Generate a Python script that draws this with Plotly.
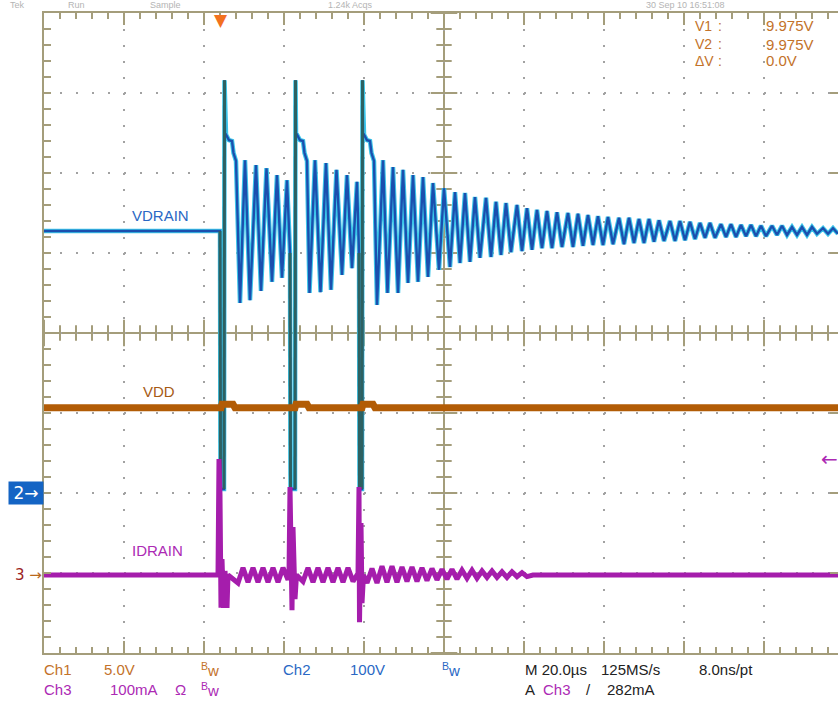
import numpy as np
import plotly.graph_objects as go

# ---------------- data ----------------
# Ch2 : VDRAIN, 100 V/div   (time in microseconds, trigger at t = 0)
vdrain_t = [-44.25, -0.25, -0.125, 0.75, 0.875, 1.0, 1.25, 2.0, 2.75, 3.125, 3.75,
            4.75, 6.0, 7.25, 8.75, 10.0, 11.375, 12.75, 14.0, 15.25, 16.5, 17.25,
            17.375, 18.5, 18.625, 18.75, 19.0, 19.75, 20.5, 20.875, 21.5,
            22.125, 23.5, 24.875, 26.25, 27.5, 28.875, 30.25, 31.5, 32.75, 34.0, 34.5,
            34.625, 35.25, 35.375, 35.5, 35.75, 36.5, 37.25, 37.625, 38.25,
            39.0, 40.5, 41.625, 43.0, 44.25, 45.5, 46.75, 48.0, 49.25, 50.5, 51.75,
            53.0, 54.5, 55.75, 57.25, 58.5, 59.75, 61.0, 62.25, 63.5, 64.75, 66.25,
            67.5, 68.75, 70.0, 71.25, 72.5, 74.0, 75.25, 76.5, 77.75, 79.0, 80.25,
            81.5, 82.75, 84.0, 85.25, 86.75, 88.0, 89.25, 90.5, 91.75, 93.0, 94.25,
            95.5, 96.75, 98.0, 99.5, 100.75, 102.0, 103.25, 104.5, 105.75, 107.0,
            108.25, 109.5, 110.75, 112.25, 113.5, 114.75, 116.0, 117.25, 118.5,
            119.75, 121.0, 122.25, 123.5, 125.0, 126.25, 127.5, 128.75, 130.0,
            131.25, 132.5, 133.75, 135.0, 136.25, 137.75, 139.0, 140.25, 141.5,
            142.75, 144.0, 145.25, 146.5, 147.75, 149.0, 150.5, 151.75, 153.0, 154.25]
vdrain_v = [327.5, 327.5, 5, 5, 516, 450, 448, 441, 440, 425, 415,
            237.5, 416, 241, 410, 252.5, 406, 264, 397.5, 269, 391, 300,
            5, 5, 516, 450, 448, 441, 440, 425, 415,
            250, 416, 251, 412.5, 254, 404, 272.5, 397.5, 281, 389, 300,
            5, 5, 516, 450, 448, 441, 440, 425, 415,
            235, 416, 250, 407.5, 250, 404, 262.5, 397.5, 264, 395, 270,
            387.5, 279, 381, 282.5, 376, 287.5, 375, 289, 370, 294, 369,
            295, 364, 297.5, 362.5, 301, 360, 302.5, 356, 304, 354, 306,
            352.5, 306, 351, 307.5, 350, 307.5, 349, 309, 347.5, 310, 346,
            310, 345, 311, 344, 311, 344, 312.5, 342.5, 312.5, 342.5,
            314, 341, 315, 340, 315, 340, 316, 339, 317.5,
            337.5, 319, 337.5, 319, 336, 320, 336, 320, 335,
            321, 335, 321, 334, 321, 334, 322.5, 334, 322.5,
            332.5, 322.5, 332.5, 322.5, 332.5, 324, 331, 324, 331, 324]

# Ch3 : IDRAIN, 100 mA/div
idrain_t = [-44.25, -0.75, -0.5, -0.25, 0.0, 0.25, 0.625, 1.0, 1.5, 1.75,
            4.25, 5.5, 6.75, 8.0, 9.25, 10.5, 11.75, 13.0, 14.25, 15.5, 16.75,
            17.0, 17.25, 17.5, 17.75, 18.0, 18.5, 18.875,
            20.5, 21.75, 23.0, 24.25, 25.5, 26.75, 28.0, 29.25, 30.5, 31.75, 33.0,
            34.0, 34.25, 34.5, 34.625, 35.0, 35.25, 35.625,
            36.5, 37.75, 39.0, 40.25, 41.5, 42.75, 44.0, 45.25, 46.5, 47.75, 49.0,
            50.25, 51.5, 52.75, 54.0, 55.25, 56.5, 57.75, 59.0, 60.25, 61.5, 62.75,
            64.0, 65.25, 66.5, 67.75, 69.0, 70.25, 71.5, 72.75, 74.0, 75.25, 76.5,
            78.0, 154.25]
idrain_ma = [0, 0, 145, 100, -41, 20, -41, 5, -41, 0,
             -10, 9, -9, 9, -9, 9, -9, 9, -9, 9, -6,
             0, 110, 60, -44, 60, -30, 0,
             -8, 9, -9, 9, -9, 9, -9, 9, -9, 9, -8,
             0, 0, 110, -59, 65, -35, 0,
             -10, 8, -10, 11, -9, 11, -9, 10, -8, 10, -8,
             9, -7, 8, -6, 7, -5, 7, -5, 6, -4, 6,
             -4, 5, -3, 5, -3, 4, -3, 4, -2, 3, -2,
             0, 0]

# Ch1 : VDD, 5 V/div
vdd_t = [-44.25, 0.0, 0.25, 3.0, 3.5, 18.5, 18.75, 21.5, 22.0,
         35.25, 35.5, 38.0, 38.5, 154.25]
vdd_v = [9.975, 9.975, 10.2, 10.2, 9.975, 9.975, 10.2, 10.2, 9.975,
         9.975, 10.2, 10.2, 9.975, 9.975]

# scope settings
time_per_div = 20.0          # us/div  (M 20.0us)
ch1_scale, ch2_scale, ch3_scale = 5.0, 100.0, 100.0   # V, V, mA per div
ch1_gnd_div, ch2_gnd_div, ch3_gnd_div = -2.93, -2.0, -3.025
t_left = -44.25              # time at the left graticule edge

# ---------------- geometry / styles ----------------
W, H = 838, 711
ML, MT, MB = 44, 13, 58
PW, PH = W - ML, H - MT - MB          # 794 x 640  (8 divisions high)
DIVPX = PH / 8.0
t_right = t_left + PW / DIVPX * time_per_div
t_center = t_left + 5 * time_per_div

def rng(scale, gnd):
    return [(-4 - gnd) * scale, (4 - gnd) * scale]

ch1_rng = rng(ch1_scale, ch1_gnd_div)
ch2_rng = rng(ch2_scale, ch2_gnd_div)
ch3_rng = rng(ch3_scale, ch3_gnd_div)
v_center = (ch2_rng[0] + ch2_rng[1]) / 2

AX = '#a49d7b'
DOT = '#a2a2a2'
ORANGE = '#c3722a'
BLUE = '#2a68c4'
PURPLE = '#ac2ab4'
BLACK = '#222222'
FONT = 'Liberation Sans, Arial, sans-serif'

def px(x):
    return (x - ML) / PW

def py(y):
    return (H - MB - y) / PH

fig = go.Figure()

# centre-cross tick marks (graticule decoration)
minor_step = time_per_div / 5
tt = np.arange(t_left, t_right + 1e-9, minor_step)
ft = ((tt - t_left) / time_per_div) % 1
is_major_t = np.isclose(ft, 0) | np.isclose(ft, 1)
vv = np.arange(ch2_rng[0], ch2_rng[1] + 1e-9, ch2_scale / 5)
fv = (vv / ch2_scale) % 1
is_major_v = np.isclose(fv, 0) | np.isclose(fv, 1)
for mask, size in ((~is_major_t, 11), (is_major_t, 19)):
    fig.add_trace(go.Scatter(x=tt[mask], y=np.full(mask.sum(), v_center), mode='markers',
                             marker=dict(symbol='line-ns', size=size, line=dict(color=AX, width=2)),
                             hoverinfo='skip'))
for mask, size in ((~is_major_v, 11), (is_major_v, 19)):
    fig.add_trace(go.Scatter(x=np.full(mask.sum(), t_center), y=vv[mask], mode='markers',
                             marker=dict(symbol='line-ew', size=size, line=dict(color=AX, width=2)),
                             hoverinfo='skip'))

# ---------------- traces ----------------
fig.add_trace(go.Scatter(x=vdd_t, y=vdd_v, yaxis='y2', mode='lines',
                         line=dict(color='#b25c06', width=7), hoverinfo='skip'))
fig.add_trace(go.Scatter(x=idrain_t, y=idrain_ma, yaxis='y3', mode='lines',
                         line=dict(color='#a51dac', width=5), hoverinfo='skip'))
fig.add_trace(go.Scatter(x=vdrain_t, y=vdrain_v, mode='lines',
                         line=dict(color='#3cc6ea', width=4.5), hoverinfo='skip'))
fig.add_trace(go.Scatter(x=vdrain_t, y=vdrain_v, mode='lines',
                         line=dict(color='#1b4fae', width=2.4), hoverinfo='skip'))
# fast edges shown in the darker persistence colour
edge_t, edge_v = [], []
for i in range(len(vdrain_t) - 1):
    dt = vdrain_t[i + 1] - vdrain_t[i]
    if abs(vdrain_v[i + 1] - vdrain_v[i]) / dt > 1000:
        edge_t += [vdrain_t[i], vdrain_t[i + 1], None]
        edge_v += [vdrain_v[i], vdrain_v[i + 1], None]
fig.add_trace(go.Scatter(x=edge_t, y=edge_v, mode='lines',
                         line=dict(color='#2d6161', width=3), hoverinfo='skip'))

# ---------------- graticule ----------------
fig.add_shape(type='line', xref='x', yref='y', x0=t_left, x1=t_right, y0=v_center, y1=v_center,
              line=dict(color=AX, width=2), layer='below')
fig.add_shape(type='line', xref='x', yref='y', x0=t_center, x1=t_center, y0=ch2_rng[0], y1=ch2_rng[1],
              line=dict(color=AX, width=2), layer='below')

fig.update_layout(
    width=W, height=H, margin=dict(l=ML, r=0, t=MT, b=MB, pad=0),
    paper_bgcolor='white', plot_bgcolor='white', showlegend=False,
    font=dict(family=FONT),
    xaxis=dict(range=[t_left, t_right], tick0=t_left, dtick=time_per_div,
               showgrid=True, gridcolor=DOT, gridwidth=2, griddash='2px,14px',
               zeroline=False, showline=True, linecolor=AX, linewidth=2, mirror='ticks',
               ticks='inside', ticklen=12, tickwidth=2, tickcolor=AX, showticklabels=False,
               minor=dict(ticks='inside', ticklen=6, tickwidth=2, tickcolor=AX,
                          dtick=minor_step, tick0=t_left, showgrid=False)),
    yaxis=dict(range=ch2_rng, tick0=0, dtick=ch2_scale,
               showgrid=True, gridcolor=DOT, gridwidth=2, griddash='2px,14px',
               zeroline=False, showline=True, linecolor=AX, linewidth=2, mirror=False,
               ticks='inside', ticklen=7, tickwidth=2, tickcolor=AX, showticklabels=False,
               minor=dict(ticks='inside', ticklen=7, tickwidth=2, tickcolor=AX,
                          dtick=ch2_scale / 5, tick0=0, showgrid=False)),
    yaxis2=dict(range=ch1_rng, overlaying='y', side='right', anchor='x', showgrid=False,
                zeroline=False, showline=False, ticks='inside', ticklen=8, tickwidth=2,
                tickcolor=AX, tick0=ch1_rng[0], dtick=ch1_scale, showticklabels=False),
    yaxis3=dict(range=ch3_rng, overlaying='y', visible=False),
)

ann = []
def text(t, x, y, color, size=15, anchor='left', family=FONT):
    ann.append(dict(text=t, x=px(x), y=py(y), xref='paper', yref='paper', showarrow=False,
                    xanchor=anchor, yanchor='middle', font=dict(color=color, size=size, family=family)))

# trace labels (placed in data coordinates)
ann.append(dict(text='VDRAIN', x=-15.25, y=347.5, xref='x', yref='y', showarrow=False,
                font=dict(color=BLUE, size=15, family=FONT)))
ann.append(dict(text='VDD', x=-15.5, y=11.0, xref='x', yref='y2', showarrow=False,
                font=dict(color='#a65a14', size=15, family=FONT)))
ann.append(dict(text='IDRAIN', x=-16, y=31, xref='x', yref='y3', showarrow=False,
                font=dict(color=PURPLE, size=15, family=FONT)))

# channel ground markers
ann.append(dict(text='2→', x=0, y=0, xref='paper', yref='y', showarrow=False, xanchor='right',
                yanchor='middle', bgcolor='#1464c4', width=30, height=18, borderpad=2,
                font=dict(color='white', size=17, family='DejaVu Sans')))
ann.append(dict(text="<span style='color:#9c1f23'>3</span> <span style='color:#b8681c'>→</span>",
                x=0, y=0, xref='paper', yref='y3', showarrow=False, xanchor='right', yanchor='middle',
                font=dict(size=15, family='DejaVu Sans')))
ann.append(dict(text='←', x=1, y=145, xref='paper', yref='y3', showarrow=False, xanchor='right',
                yanchor='middle', xshift=2, font=dict(color=PURPLE, size=20, family='DejaVu Sans')))
# trigger position marker
ann.append(dict(text='▼', x=0, y=1, xref='x', yref='paper', showarrow=False, xanchor='center',
                yanchor='top', yshift=5, font=dict(color='#f2711f', size=17, family='DejaVu Sans')))

# cursor readouts
for label, val, y in (('V1', '9.975V', 26), ('V2', '9.975V', 44), ('ΔV', '0.0V', 61)):
    text(label, 693, y, ORANGE, size=14)
    text(':', 716, y, ORANGE, size=14)
    text(val, 764, y, ORANGE, size=15)

# bottom status lines
r1, r2 = 669, 689
text('Ch1', 42, r1, ORANGE)
text('5.0V', 102, r1, ORANGE)
text('<sup>B</sup>w', 199, r1, ORANGE)
text('Ch2', 281, r1, BLUE)
text('100V', 348, r1, BLUE)
text('<sup>B</sup>w', 440, r1, BLUE)
text('M 20.0µs', 523, r1, BLACK)
text('125MS/s', 599, r1, BLACK)
text('8.0ns/pt', 697, r1, BLACK)
text('Ch3', 42, r2, PURPLE)
text('100mA', 108, r2, PURPLE)
text('Ω', 173, r2, PURPLE)
text('<sup>B</sup>w', 199, r2, PURPLE)
text('A', 523, r2, BLACK)
text('Ch3', 541, r2, PURPLE)
text('/', 584, r2, BLACK)
text('282mA', 605, r2, BLACK)

# faint header line (mostly hidden behind the top edge on the scope capture)
for s, x in (('Tek', 8), ('Run', 66), ('Sample', 148), ('1.24k Acqs', 326), ('30 Sep 10 16:51:08', 644)):
    text(s, x, 5, '#b4b4b4', size=9)

fig.update_layout(annotations=ann)

fig.write_html('out.html', config={'displayModeBar': False},
               post_script="document.body.style.margin='0';")
